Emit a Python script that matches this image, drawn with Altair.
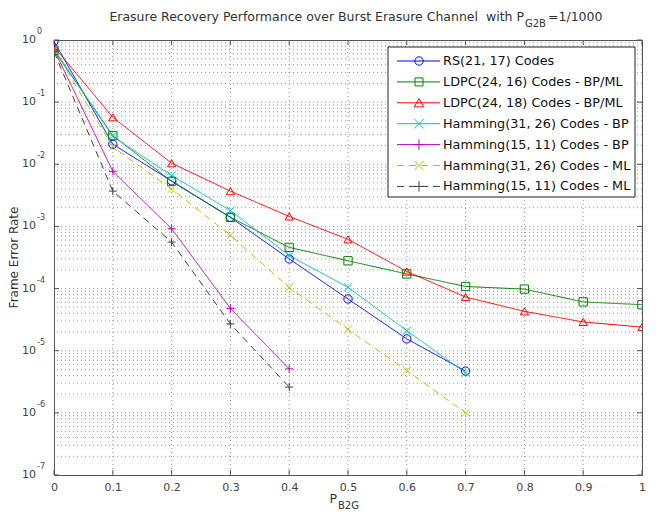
import altair as alt
import pandas as pd

# ---------------- data ----------------
series_names = [
    "RS(21, 17) Codes",
    "LDPC(24, 16) Codes - BP/ML",
    "LDPC(24, 18) Codes - BP/ML",
    "Hamming(31, 26) Codes - BP",
    "Hamming(15, 11) Codes - BP",
    "Hamming(31, 26) Codes - ML",
    "Hamming(15, 11) Codes - ML",
]
p_b2g = [0.0, 0.1, 0.2, 0.3, 0.4, 0.5, 0.6, 0.7, 0.8, 0.9, 1.0]

rs_21_17 = [0.95, 0.021, 0.0054, 0.0014, 0.00030, 6.8e-5, 1.55e-5, 4.7e-6]
ldpc_24_16 = [0.68, 0.029, 0.0053, 0.0014, 0.00046, 0.00028, 0.000172, 0.000108, 9.8e-5, 6.1e-5, 5.5e-5]
ldpc_24_18 = [0.78, 0.057, 0.0104, 0.0037, 0.00145, 0.00062, 0.000188, 7.3e-5, 4.3e-5, 2.9e-5, 2.4e-5]
ham_31_26_bp = [0.72, 0.028, 0.0066, 0.0018, 0.00034, 0.000105, 2.1e-5, 4.4e-6]
ham_15_11_bp = [0.70, 0.0077, 0.00092, 4.8e-5, 5.1e-6]
ham_31_26_ml = [0.70, 0.019, 0.0040, 0.00072, 0.000104, 2.2e-5, 4.8e-6, 1.0e-6]
ham_15_11_ml = [0.65, 0.0037, 0.00056, 2.7e-5, 2.6e-6]

series_values = [rs_21_17, ldpc_24_16, ldpc_24_18, ham_31_26_bp,
                 ham_15_11_bp, ham_31_26_ml, ham_15_11_ml]

x_ticks = p_b2g
y_decades = [-7, -6, -5, -4, -3, -2, -1, 0]

# ---------------- styles ----------------
colors = ["#0000ff", "#008000", "#ff0000", "#00bfbf", "#bf00bf", "#bfbf00", "#404040"]
dashes = [[1, 0], [1, 0], [1, 0], [1, 0], [1, 0], [7, 5], [7, 5]]
X_PATH = "M-1,-1L1,1M-1,1L1,-1"
PLUS_PATH = "M-1,0L1,0M0,-1L0,1"
shapes = ["circle", "square", "triangle-up", X_PATH, PLUS_PATH, X_PATH, PLUS_PATH]
sizes = [70, 64, 90, 90, 110, 90, 110]

FONT = "DejaVu Sans"
W, H = 588, 435

rows = []
for name, vals in zip(series_names, series_values):
    for x, y in zip(p_b2g, vals):
        rows.append({"series": name, "p": x, "fer": y})
df = pd.DataFrame(rows)

xscale = alt.Scale(domain=[0, 1], nice=False, zero=False)
yscale = alt.Scale(type="log", domain=[1e-7, 1], nice=False)

color_enc = alt.Color("series:N", scale=alt.Scale(domain=series_names, range=colors), legend=None)
dash_enc = alt.StrokeDash("series:N", scale=alt.Scale(domain=series_names, range=dashes), legend=None)
shape_enc = alt.Shape("series:N", scale=alt.Scale(domain=series_names, range=shapes), legend=None)
size_enc = alt.Size("series:N", scale=alt.Scale(domain=series_names, range=sizes), legend=None)

x_axis = alt.Axis(values=x_ticks, format=".1~f", labelFontSize=11, labelColor="#444",
                  labelFont=FONT, ticks=False, domain=False, grid=False, title=None,
                  labelPadding=6, labelFlush=False)

# grid
x_grid_df = pd.DataFrame({"v": x_ticks[1:-1]})
y_grid_vals = [k * 10.0 ** e for e in y_decades[:-1] for k in range(1, 10)][1:]
y_grid_df = pd.DataFrame({"v": y_grid_vals})

grid_style = dict(strokeDash=[1, 3], color="#777", strokeWidth=1, opacity=0.75)
xgrid = alt.Chart(x_grid_df).mark_rule(**grid_style).encode(
    x=alt.X("v:Q", scale=xscale, axis=x_axis))
ygrid = alt.Chart(y_grid_df).mark_rule(**grid_style).encode(
    y=alt.Y("v:Q", scale=yscale, axis=None))

# inward ticks
xt_df = pd.DataFrame({"v": x_ticks})
yt_df = pd.DataFrame({"v": [10.0 ** e for e in y_decades]})
tick_style = dict(color="#555", strokeWidth=1)
xt_bottom = alt.Chart(xt_df).mark_rule(**tick_style).encode(
    x=alt.X("v:Q", scale=xscale), y=alt.value(H), y2=alt.value(H - 5))
xt_top = alt.Chart(xt_df).mark_rule(**tick_style).encode(
    x=alt.X("v:Q", scale=xscale), y=alt.value(0), y2=alt.value(5))
yt_left = alt.Chart(yt_df).mark_rule(**tick_style).encode(
    y=alt.Y("v:Q", scale=yscale), x=alt.value(0), x2=alt.value(5))
yt_right = alt.Chart(yt_df).mark_rule(**tick_style).encode(
    y=alt.Y("v:Q", scale=yscale), x=alt.value(W), x2=alt.value(W - 5))

# y labels 10^e
ylab_df = pd.DataFrame({"v": [10.0 ** e for e in y_decades],
                        "base": ["10"] * len(y_decades),
                        "exp": [str(e) for e in y_decades]})
ylab_base = alt.Chart(ylab_df).mark_text(align="right", baseline="middle", fontSize=11,
                                         font=FONT, color="#444").encode(
    y=alt.Y("v:Q", scale=yscale), x=alt.value(-18), text="base:N")
ylab_exp = alt.Chart(ylab_df).mark_text(align="left", baseline="middle", fontSize=8,
                                        font=FONT, color="#444", dy=-8).encode(
    y=alt.Y("v:Q", scale=yscale), x=alt.value(-17), text="exp:N")

# data
lines = alt.Chart(df).mark_line(strokeWidth=1, clip=True).encode(
    x=alt.X("p:Q", scale=xscale),
    y=alt.Y("fer:Q", scale=yscale),
    color=color_enc, strokeDash=dash_enc, order="p:Q")
points = alt.Chart(df).mark_point(filled=False, strokeWidth=1, opacity=1, clip=True).encode(
    x=alt.X("p:Q", scale=xscale),
    y=alt.Y("fer:Q", scale=yscale),
    color=color_enc, shape=shape_enc, size=size_enc)

# legend (manual, MATLAB style)
LX = 334
one = pd.DataFrame({"a": [0]})
legend_layers = [
    alt.Chart(one).mark_rect(fill="white", stroke="#222", strokeWidth=1).encode(
        x=alt.value(LX), x2=alt.value(LX + 247), y=alt.value(7), y2=alt.value(157))
]
for i, name in enumerate(series_names):
    ly = 21 + i * 20.9
    legend_layers.append(alt.Chart(one).mark_rule(
        color=colors[i], strokeDash=dashes[i], strokeWidth=1).encode(
        x=alt.value(LX + 9), x2=alt.value(LX + 52), y=alt.value(ly)))
    legend_layers.append(alt.Chart(one).mark_point(
        filled=False, strokeWidth=1, opacity=1, color=colors[i], shape=shapes[i],
        size=sizes[i]).encode(x=alt.value(LX + 31), y=alt.value(ly)))
    legend_layers.append(alt.Chart(pd.DataFrame({"t": [name]})).mark_text(
        align="left", baseline="middle", fontSize=12.8, font=FONT, color="#111").encode(
        x=alt.value(LX + 55), y=alt.value(ly), text="t:N"))

# titles
txt = dict(font=FONT, color="#333")
title_main = alt.Chart(one).mark_text(align="right", baseline="middle", fontSize=12.5, **txt).encode(
    x=alt.value(470), y=alt.value(-23),
    text=alt.value("Erasure Recovery Performance over Burst Erasure Channel\u00a0 with P"))
title_sub = alt.Chart(one).mark_text(align="left", baseline="middle", fontSize=10, **txt).encode(
    x=alt.value(471), y=alt.value(-16), text=alt.value("G2B"))
title_end = alt.Chart(one).mark_text(align="left", baseline="middle", fontSize=12.5, **txt).encode(
    x=alt.value(494), y=alt.value(-23), text=alt.value("=1/1000"))

xt_main = alt.Chart(one).mark_text(align="right", baseline="middle", fontSize=12.5, **txt).encode(
    x=alt.value(W / 2 - 11), y=alt.value(H + 24), text=alt.value("P"))
xt_sub = alt.Chart(one).mark_text(align="left", baseline="middle", fontSize=10, **txt).encode(
    x=alt.value(W / 2 - 10), y=alt.value(H + 31), text=alt.value("B2G"))
ytitle = alt.Chart(one).mark_text(align="center", baseline="middle", fontSize=12, angle=270, **txt).encode(
    x=alt.value(-40), y=alt.value(H / 2), text=alt.value("Frame Error Rate"))

chart = alt.layer(
    xgrid, ygrid, xt_bottom, xt_top, yt_left, yt_right, ylab_base, ylab_exp,
    lines, points, *legend_layers,
    title_main, title_sub, title_end, xt_main, xt_sub, ytitle,
).properties(
    width=W, height=H,
    autosize=alt.AutoSizeParams(type="none"),
    padding={"left": 46, "top": 32, "right": 6, "bottom": 38},
    background="white",
).configure_view(stroke="#555", strokeWidth=1)

chart.save("out.html", embed_options={"renderer": "svg", "actions": False})
